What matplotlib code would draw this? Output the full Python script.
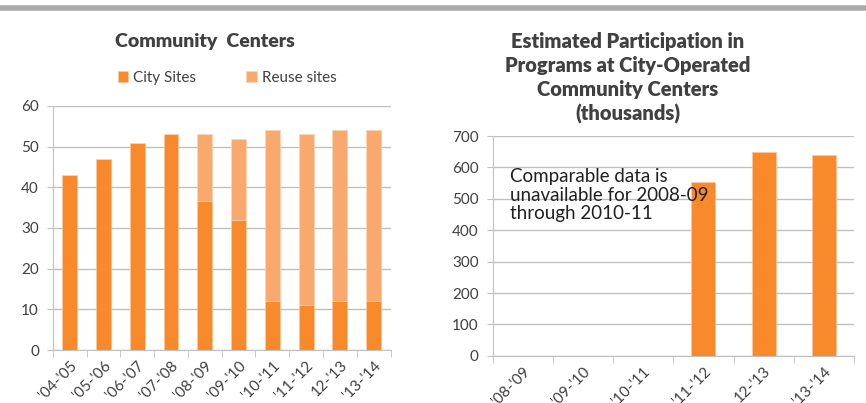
import matplotlib
matplotlib.use('Agg')
import matplotlib.pyplot as plt
import numpy as np

plt.rcParams['font.family'] = ['Lato', 'DejaVu Sans']

# left chart: community centers
years_left = ["'04-'05", "'05-'06", "'06-'07", "'07-'08", "'08-'09",
              "'09-'10", "'10-'11", "'11-'12", "12-'13", "'13-'14"]
city_sites = [43, 47, 50.8, 53, 36.7, 32, 12, 11, 12, 12]
reuse_sites = [0, 0, 0, 0, 16.3, 20, 42.2, 42, 42.2, 42.2]

# right chart: participation (thousands)
years_right = ["'08-'09", "'09-'10", "'10-'11", "'11-'12", "12-'13", "'13-'14"]
participation = [np.nan, np.nan, np.nan, 553, 648, 638]

CITY = '#F98A2B'
REUSE = '#F9A86E'
GRID = '#C0C0C0'
TXT = '#404040'

W, H = 866, 403
fig = plt.figure(figsize=(8.66, 4.03), dpi=100)
fig.add_artist(plt.Line2D([0.0, 1.0], [1 - 8 / H, 1 - 8 / H], color='#ABABAB', lw=4))


def style(ax, n):
    ax.set_xlim(-0.5, n - 0.5)
    for s in ['top', 'right']:
        ax.spines[s].set_visible(False)
    for s in ['left', 'bottom']:
        ax.spines[s].set_color(GRID)
    ax.yaxis.grid(True, color=GRID, lw=1)
    ax.set_axisbelow(True)
    ax.tick_params(axis='y', colors=GRID, labelcolor=TXT, labelsize=11, length=4, pad=6)
    ax.tick_params(axis='x', which='major', length=0, labelcolor=TXT, labelsize=11, pad=6)
    ax.set_xticks(np.arange(-0.5, n), minor=True)
    ax.tick_params(axis='x', which='minor', length=5, colors=GRID)


ax1 = fig.add_axes([0.061, 0.1315, 0.39, 0.6055])
x1 = np.arange(len(years_left))
ax1.bar(x1, city_sites, width=0.44, color=CITY, edgecolor='#FBC79E', lw=0.5, label='City Sites')
ax1.bar(x1, reuse_sites, width=0.44, bottom=city_sites, color=REUSE, edgecolor='#FBD3B5', lw=0.5,
        label='Reuse sites')
style(ax1, len(years_left))
ax1.set_ylim(0, 60)
ax1.set_yticks(range(0, 61, 10))
ax1.set_xticks(x1)
ax1.set_xticklabels(years_left, rotation=45, ha='right', rotation_mode='anchor')
fig.text(205 / W, 1 - 42 / H, 'Community  Centers', fontsize=14, fontweight='heavy',
         color=TXT, ha='center', va='center')
fig.legend(*ax1.get_legend_handles_labels(), loc='center left',
           bbox_to_anchor=(104 / W, 1 - 78 / H), ncol=2, frameon=False,
           fontsize=11, handlelength=0.7, handleheight=0.7, columnspacing=3.3,
           handletextpad=0.3, labelcolor=TXT)

ax2 = fig.add_axes([0.569, 0.117, 0.417, 0.5455])
x2 = np.arange(len(years_right))
ax2.bar(x2, participation, width=0.4, color=CITY, edgecolor='#FBC79E', lw=0.5)
style(ax2, len(years_right))
ax2.set_ylim(0, 700)
ax2.set_yticks(range(0, 701, 100))
ax2.set_xticks(x2)
ax2.set_xticklabels(years_right, rotation=45, ha='right', rotation_mode='anchor')
fig.text(628 / W, 1 - 78 / H,
         'Estimated Participation in\nPrograms at City-Operated\nCommunity Centers\n(thousands)',
         fontsize=14.5, fontweight='heavy', color=TXT, ha='center', va='center',
         linespacing=1.3)
ax2.text(510 / W, 1 - 168 / H, 'Comparable data is\nunavailable for 2008-09\nthrough 2010-11',
         transform=fig.transFigure, fontsize=13.5, color='#202020', va='top', ha='left',
         linespacing=1.12)

fig.savefig('out.png', dpi=100)
